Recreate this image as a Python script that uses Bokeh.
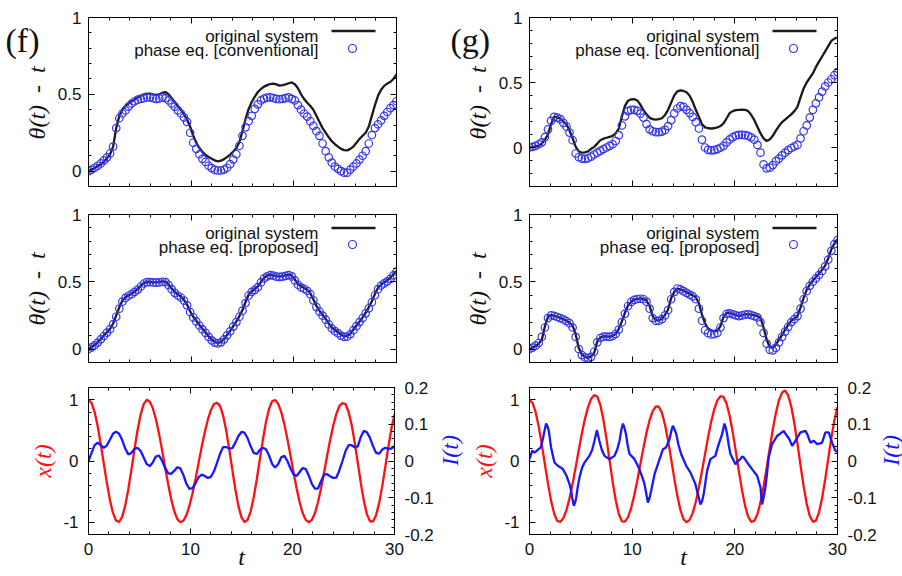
import math
import numpy as np
from bokeh.plotting import figure
from bokeh.layouts import column, row
from bokeh.models import (Range1d, LinearAxis, SingleIntervalTicker, NumeralTickFormatter,
                          Label, Arrow, BoxAnnotation)
from bokeh.core.properties import value
from bokeh.embed import file_html
from bokeh.resources import INLINE

# sampling times of the plotted series (0 .. 30, step 0.3)
t = np.round(np.arange(101) * 0.3, 1)

# ---- (f) theta(t) - t : original system vs conventional phase equation
f_orig_conv = [0, 0.01, 0.02, 0.035, 0.045, 0.06, 0.085, 0.11, 0.16, 0.28,
               0.36, 0.4, 0.425, 0.44, 0.455, 0.465, 0.48, 0.49, 0.5, 0.505,
               0.505, 0.5, 0.497, 0.5, 0.51, 0.515, 0.5, 0.475, 0.45, 0.425,
               0.4, 0.37, 0.335, 0.29, 0.23, 0.185, 0.15, 0.125, 0.105, 0.092,
               0.08, 0.07, 0.064, 0.068, 0.078, 0.092, 0.108, 0.128, 0.15, 0.19,
               0.26, 0.34, 0.405, 0.45, 0.485, 0.515, 0.535, 0.55, 0.56, 0.567,
               0.57, 0.565, 0.557, 0.56, 0.565, 0.572, 0.577, 0.565, 0.54, 0.5,
               0.47, 0.445, 0.425, 0.4, 0.36, 0.32, 0.28, 0.25, 0.22, 0.195,
               0.175, 0.16, 0.145, 0.137, 0.135, 0.145, 0.16, 0.185, 0.21, 0.23,
               0.25, 0.29, 0.36, 0.43, 0.49, 0.53, 0.555, 0.57, 0.58, 0.6,
               0.63]
f_conv = [0, 0.01, 0.022, 0.035, 0.05, 0.07, 0.09, 0.115, 0.16, 0.28,
          0.345, 0.375, 0.395, 0.42, 0.44, 0.455, 0.465, 0.47, 0.475, 0.48,
          0.48, 0.475, 0.47, 0.473, 0.48, 0.475, 0.46, 0.44, 0.42, 0.395,
          0.375, 0.35, 0.32, 0.25, 0.185, 0.145, 0.11, 0.08, 0.06, 0.035,
          0.02, 0.008, 0.004, 0.004, 0.01, 0.022, 0.045, 0.075, 0.11, 0.165,
          0.23, 0.285, 0.325, 0.36, 0.405, 0.435, 0.46, 0.472, 0.478, 0.48,
          0.476, 0.47, 0.468, 0.47, 0.475, 0.48, 0.47, 0.46, 0.43, 0.4,
          0.375, 0.355, 0.325, 0.295, 0.26, 0.23, 0.18, 0.13, 0.09, 0.055,
          0.03, 0.015, 0.0, -0.01, -0.01, 0.01, 0.03, 0.05, 0.075, 0.1,
          0.13, 0.18, 0.235, 0.28, 0.305, 0.33, 0.36, 0.385, 0.41, 0.43,
          0.455]

# ---- (f) theta(t) - t : original system vs proposed phase equation
f_orig_prop = [0, 0.015, 0.03, 0.05, 0.075, 0.1, 0.125, 0.15, 0.19, 0.25,
               0.31, 0.36, 0.385, 0.4, 0.41, 0.43, 0.445, 0.47, 0.49, 0.5,
               0.5, 0.497, 0.495, 0.497, 0.505, 0.5, 0.48, 0.45, 0.425, 0.405,
               0.39, 0.365, 0.33, 0.28, 0.24, 0.21, 0.18, 0.15, 0.125, 0.095,
               0.07, 0.052, 0.045, 0.052, 0.075, 0.105, 0.135, 0.17, 0.205, 0.245,
               0.29, 0.35, 0.405, 0.43, 0.445, 0.465, 0.5, 0.53, 0.545, 0.555,
               0.55, 0.542, 0.54, 0.542, 0.548, 0.555, 0.545, 0.517, 0.485, 0.465,
               0.455, 0.44, 0.415, 0.37, 0.32, 0.285, 0.255, 0.225, 0.19, 0.16,
               0.14, 0.125, 0.105, 0.095, 0.097, 0.115, 0.145, 0.175, 0.205, 0.235,
               0.27, 0.31, 0.355, 0.41, 0.455, 0.48, 0.495, 0.51, 0.53, 0.555,
               0.58]
f_prop = [0, 0.012, 0.028, 0.048, 0.072, 0.097, 0.122, 0.148, 0.185, 0.24,
          0.3, 0.352, 0.38, 0.396, 0.408, 0.425, 0.442, 0.465, 0.487, 0.497,
          0.498, 0.495, 0.493, 0.495, 0.5, 0.497, 0.475, 0.445, 0.418, 0.398,
          0.383, 0.36, 0.325, 0.275, 0.235, 0.205, 0.175, 0.146, 0.12, 0.09,
          0.065, 0.048, 0.042, 0.05, 0.072, 0.102, 0.132, 0.167, 0.2, 0.24,
          0.285, 0.342, 0.398, 0.425, 0.44, 0.46, 0.495, 0.525, 0.54, 0.55,
          0.546, 0.538, 0.536, 0.538, 0.544, 0.55, 0.54, 0.51, 0.478, 0.458,
          0.448, 0.433, 0.408, 0.362, 0.312, 0.278, 0.248, 0.218, 0.183, 0.153,
          0.133, 0.118, 0.1, 0.09, 0.093, 0.11, 0.14, 0.17, 0.2, 0.23,
          0.265, 0.303, 0.348, 0.4, 0.445, 0.472, 0.488, 0.503, 0.522, 0.548,
          0.575]

# ---- (g) theta(t) - t : original system vs conventional phase equation
g_orig_conv = [0, 0.003, 0.008, 0.015, 0.03, 0.06, 0.1, 0.18, 0.235, 0.235,
               0.222, 0.2, 0.178, 0.13, 0.07, 0.005, -0.03, -0.04, -0.037, -0.03,
               -0.01, 0.005, 0.03, 0.056, 0.068, 0.075, 0.082, 0.09, 0.11, 0.146,
               0.24, 0.32, 0.36, 0.37, 0.372, 0.362, 0.33, 0.287, 0.255, 0.228,
               0.218, 0.215, 0.218, 0.225, 0.25, 0.29, 0.345, 0.4, 0.432, 0.44,
               0.435, 0.425, 0.398, 0.35, 0.29, 0.235, 0.18, 0.155, 0.148, 0.146,
               0.148, 0.154, 0.165, 0.185, 0.225, 0.265, 0.28, 0.287, 0.29, 0.292,
               0.29, 0.28, 0.25, 0.21, 0.16, 0.108, 0.07, 0.05, 0.062, 0.09,
               0.13, 0.165, 0.195, 0.215, 0.235, 0.255, 0.28, 0.313, 0.385, 0.454,
               0.5, 0.535, 0.57, 0.62, 0.66, 0.7, 0.74, 0.78, 0.82, 0.838,
               0.846]
g_conv = [0.0, 0.005, 0.012, 0.025, 0.04, 0.08, 0.14, 0.205, 0.236, 0.23,
          0.218, 0.19, 0.16, 0.115, 0.056, -0.046, -0.075, -0.085, -0.087, -0.083,
          -0.07, -0.054, -0.04, -0.026, -0.012, 0.0, 0.012, 0.025, 0.05, 0.095,
          0.17, 0.24, 0.28, 0.29, 0.29, 0.282, 0.26, 0.23, 0.18, 0.14,
          0.125, 0.118, 0.118, 0.122, 0.135, 0.165, 0.21, 0.262, 0.3, 0.318,
          0.313, 0.29, 0.265, 0.235, 0.195, 0.146, 0.06, 0.0, -0.018, -0.022,
          -0.02, -0.012, -0.002, 0.012, 0.04, 0.062, 0.08, 0.092, 0.097, 0.097,
          0.095, 0.09, 0.078, 0.06, 0.02, -0.04, -0.13, -0.16, -0.155, -0.135,
          -0.105, -0.085, -0.06, -0.04, -0.02, -0.004, 0.008, 0.02, 0.07, 0.125,
          0.17, 0.23, 0.29, 0.34, 0.385, 0.43, 0.47, 0.5, 0.525, 0.556,
          0.58]

# ---- (g) theta(t) - t : original system vs proposed phase equation
g_orig_prop = [0, 0.01, 0.022, 0.04, 0.07, 0.17, 0.24, 0.252, 0.248, 0.24,
               0.232, 0.222, 0.21, 0.195, 0.175, 0.107, 0.007, -0.04, -0.058, -0.067,
               -0.055, -0.03, 0.057, 0.085, 0.095, 0.094, 0.09, 0.098, 0.113, 0.15,
               0.206, 0.27, 0.325, 0.352, 0.368, 0.373, 0.376, 0.372, 0.36, 0.32,
               0.244, 0.215, 0.212, 0.225, 0.255, 0.294, 0.38, 0.425, 0.448, 0.445,
               0.433, 0.422, 0.41, 0.398, 0.385, 0.34, 0.256, 0.19, 0.152, 0.138,
               0.132, 0.135, 0.17, 0.24, 0.27, 0.268, 0.261, 0.252, 0.244, 0.252,
               0.26, 0.26, 0.255, 0.251, 0.245, 0.231, 0.16, 0.07, 0.015, 0.01,
               0.032, 0.07, 0.105, 0.145, 0.18, 0.21, 0.228, 0.244, 0.31, 0.38,
               0.44, 0.48, 0.51, 0.535, 0.562, 0.59, 0.62, 0.675, 0.74, 0.785,
               0.816]
g_prop = [0, 0.01, 0.025, 0.045, 0.09, 0.16, 0.23, 0.25, 0.247, 0.238,
          0.23, 0.22, 0.208, 0.192, 0.16, 0.09, 0.0, -0.045, -0.062, -0.068,
          -0.058, -0.02, 0.05, 0.082, 0.092, 0.093, 0.09, 0.097, 0.112, 0.145,
          0.2, 0.262, 0.32, 0.35, 0.366, 0.372, 0.374, 0.37, 0.352, 0.3,
          0.23, 0.21, 0.21, 0.222, 0.25, 0.29, 0.37, 0.425, 0.45, 0.443,
          0.43, 0.418, 0.405, 0.392, 0.37, 0.3, 0.21, 0.14, 0.118, 0.108,
          0.11, 0.12, 0.16, 0.23, 0.262, 0.265, 0.258, 0.25, 0.245, 0.25,
          0.256, 0.258, 0.252, 0.245, 0.235, 0.2, 0.12, 0.04, -0.005, -0.01,
          0.01, 0.05, 0.09, 0.13, 0.165, 0.2, 0.222, 0.245, 0.3, 0.37,
          0.43, 0.47, 0.5, 0.525, 0.55, 0.58, 0.615, 0.665, 0.73, 0.78,
          0.81]

# ---- state x(t) and input I(t)
f_x = [1.0, 0.948, 0.799, 0.568, 0.276, -0.043, -0.357, -0.635, -0.848, -0.972,
       -0.996, -0.912, -0.728, -0.465, -0.149, 0.182, 0.493, 0.75, 0.925, 0.998,
       0.972, 0.866, 0.69, 0.459, 0.19, -0.095, -0.372, -0.618, -0.815, -0.945,
       -0.999, -0.976, -0.884, -0.73, -0.525, -0.284, -0.022, 0.235, 0.47, 0.675,
       0.83, 0.93, 0.95, 0.9, 0.74, 0.5, 0.19, -0.143, -0.466, -0.737,
       -0.921, -0.998, -0.962, -0.822, -0.592, -0.298, 0.028, 0.35, 0.636, 0.852,
       0.976, 0.996, 0.932, 0.798, 0.602, 0.361, 0.092, -0.184, -0.446, -0.674,
       -0.85, -0.962, -1.0, -0.962, -0.85, -0.674, -0.446, -0.184, 0.09, 0.35,
       0.58, 0.77, 0.9, 0.945, 0.93, 0.8, 0.59, 0.3, -0.029, -0.363,
       -0.655, -0.871, -0.985, -0.987, -0.881, -0.681, -0.41, -0.093, 0.233, 0.534,
       0.76]
f_I = [0.0, 0.022, 0.043, 0.05, 0.043, 0.036, 0.042, 0.058, 0.074, 0.08,
       0.074, 0.057, 0.034, 0.018, 0.022, 0.033, 0.036, 0.028, 0.01, -0.008,
       -0.014, -0.004, 0.012, 0.015, 0.002, -0.018, -0.033, -0.035, -0.027, -0.017,
       -0.02, -0.038, -0.062, -0.076, -0.074, -0.06, -0.044, -0.037, -0.041, -0.046,
       -0.043, -0.028, -0.005, 0.02, 0.038, 0.038, 0.034, 0.035, 0.05, 0.068,
       0.079, 0.077, 0.062, 0.04, 0.022, 0.019, 0.03, 0.036, 0.032, 0.015,
       -0.008, -0.018, -0.008, 0.01, 0.014, 0.0, -0.02, -0.036, -0.041, -0.03,
       -0.019, -0.022, -0.04, -0.062, -0.075, -0.075, -0.055, -0.037, -0.036, -0.042,
       -0.046, -0.045, -0.025, 0.0, 0.027, 0.043, 0.043, 0.037, 0.04, 0.066,
       0.082, 0.078, 0.063, 0.04, 0.022, 0.02, 0.031, 0.036, 0.033, 0.034,
       0.04]
g_x = [1.0, 0.948, 0.796, 0.561, 0.267, -0.054, -0.37, -0.647, -0.857, -0.977,
       -0.996, -0.933, -0.801, -0.608, -0.369, -0.1, 0.179, 0.449, 0.688, 0.881,
       1.013, 1.076, 1.053, 0.915, 0.674, 0.361, 0.01, -0.338, -0.641, -0.866,
       -0.984, -0.99, -0.915, -0.768, -0.564, -0.318, -0.05, 0.218, 0.464, 0.668,
       0.815, 0.89, 0.887, 0.786, 0.593, 0.332, 0.029, -0.284, -0.569, -0.8,
       -0.949, -1.0, -0.961, -0.847, -0.666, -0.434, -0.166, 0.117, 0.394, 0.644,
       0.847, 0.989, 1.059, 1.046, 0.936, 0.736, 0.464, 0.152, -0.173, -0.476,
       -0.733, -0.91, -0.994, -0.979, -0.869, -0.675, -0.415, -0.112, 0.208, 0.517,
       0.788, 0.992, 1.117, 1.15, 1.07, 0.886, 0.613, 0.281, -0.073, -0.41,
       -0.697, -0.898, -0.993, -0.974, -0.839, -0.605, -0.3, 0.04, 0.376, 0.668,
       0.88]
g_I_t = [0, 0.26, 0.5, 0.8, 1.1, 1.3, 1.46, 1.62, 1.75, 1.88, 2.1, 2.43, 2.76, 3.25, 3.57,
         3.9, 4.05, 4.16, 4.32, 4.45, 4.55, 4.7, 4.87, 5.1, 5.36, 5.84, 6.1, 6.33, 6.56,
         6.8, 7.05, 7.3, 7.8, 8.28, 8.55, 8.77, 8.95, 9.1, 9.25, 9.4, 9.55, 9.74, 10.23,
         10.7, 11.0, 11.2, 11.38, 11.53, 11.7, 11.85, 12.18, 12.5, 13.0, 13.3, 13.64, 13.8,
         13.96, 14.1, 14.3, 14.5, 14.77, 15.26, 15.67, 16.16, 16.49, 16.65, 16.8, 16.97,
         17.15, 17.3, 17.62, 18.1, 18.43, 18.76, 18.99, 19.12, 19.25, 19.4, 19.57, 20.06,
         20.3, 20.54, 20.7, 20.87, 21.2, 21.68, 22.17, 22.5, 22.65, 22.8, 22.98, 23.15,
         23.3, 23.63, 24.12, 24.45, 24.76, 25.09, 25.3, 25.58, 25.9, 26.39, 26.88, 27.1,
         27.36, 27.69, 28.01, 28.3, 28.5, 28.82, 29.15, 29.47, 29.8, 30.0]
g_I = [0.005, 0.028, 0.023, 0.03, 0.037, 0.06, 0.082, 0.102, 0.095, 0.082, 0.037, -0.004,
       -0.013, -0.022, -0.038, -0.063, -0.08, -0.1, -0.122, -0.112, -0.1, -0.07, -0.045,
       -0.02, -0.004, 0.014, 0.03, 0.055, 0.084, 0.055, 0.03, 0.014, 0.005, 0.014, 0.032,
       0.055, 0.085, 0.102, 0.09, 0.073, 0.045, 0.019, 0.005, -0.022, -0.045, -0.063,
       -0.09, -0.113, -0.1, -0.081, -0.036, -0.009, 0.032, 0.037, 0.059, 0.08, 0.096,
       0.088, 0.073, 0.045, 0.019, -0.013, -0.031, -0.063, -0.1, -0.118, -0.11, -0.09,
       -0.055, -0.027, 0.005, 0.014, 0.046, 0.073, 0.102, 0.09, 0.073, 0.045, 0.019,
       -0.009, 0.0, 0.005, 0.012, 0.01, -0.004, -0.022, -0.04, -0.072, -0.118, -0.1,
       -0.072, -0.03, 0.01, 0.046, 0.068, 0.075, 0.082, 0.068, 0.06, 0.041, 0.055, 0.078,
       0.082, 0.07, 0.05, 0.055, 0.046, 0.048, 0.05, 0.078, 0.078, 0.05, 0.028, 0.025]

SANS = "Liberation Sans"
SERIF = "Liberation Serif"
BLACK = "#1a1a1a"
CIRC = "#3535f0"
RED = "#ff1010"
BLUE = "#1818ff"
INK = "#111111"
THETA_LABEL = "θ(t)\u2002-\u2002t"
UP = math.pi / 2


def style_axis(ax, interval, labels=True, standoff=7):
    ax.ticker = SingleIntervalTicker(interval=interval, num_minor_ticks=5)
    ax.formatter = NumeralTickFormatter(format="0.[0]")
    ax.major_tick_in = 6
    ax.major_tick_out = 0
    ax.minor_tick_in = 3
    ax.minor_tick_out = 0
    ax.major_tick_line_color = "black"
    ax.minor_tick_line_color = "black"
    ax.axis_line_color = "black"
    ax.major_label_text_font = SANS
    if labels:
        ax.major_label_text_font_size = "17px"
        ax.major_label_text_color = INK
        ax.major_label_standoff = standoff
    else:
        # mirrored ticks only
        ax.major_label_text_font_size = "1px"
        ax.major_label_text_color = None
        ax.major_label_standoff = 0


def style_axis_label(ax, txt, color, standoff):
    ax.axis_label = txt
    ax.axis_label_text_font = SERIF
    ax.axis_label_text_font_style = "italic"
    ax.axis_label_text_font_size = "24px"
    ax.axis_label_text_color = color
    ax.axis_label_standoff = standoff


def panel(width, height, left, right, top, bottom, yr):
    p = figure(width=width, height=height, x_range=Range1d(0, 30), y_range=Range1d(*yr),
               x_axis_type=None, y_axis_type=None,
               output_backend="svg", toolbar_location=None,
               min_border_left=left, min_border_right=right,
               min_border_top=top, min_border_bottom=bottom)
    p.outline_line_color = "black"
    p.outline_line_width = 1
    p.outline_line_alpha = 1
    p.background_fill_color = "white"
    p.border_fill_color = "white"
    return p


def label_strip(width, height, items):
    """Narrow plain canvas carrying a panel letter or a rotated axis title."""
    p = figure(width=width, height=height, x_range=Range1d(0, width), y_range=Range1d(height, 0),
               x_axis_type=None, y_axis_type=None, output_backend="svg", toolbar_location=None,
               min_border_left=0, min_border_right=0, min_border_top=0, min_border_bottom=0)
    p.outline_line_color = None
    p.background_fill_color = "white"
    p.border_fill_color = "white"
    for x, y, s, size, style, color, align, baseline, angle in items:
        p.text(x=[x], y=[y], text=[s], text_font=value(SERIF), text_font_size=value(size),
               text_font_style=style, text_color=color, text_align=align,
               text_baseline=baseline, angle=angle)
    return p


def key_text(p, x, y, s):
    p.add_layout(Label(x=x, y=y, x_units="screen", y_units="screen", text=s,
                       text_font=SANS, text_font_size="17px", text_color=INK,
                       text_align="right", text_baseline="alphabetic"))


def theta_panel(width, height, left, right, top, bottom, yr, orig, phase, kind):
    p = panel(width, height, left, right, top, bottom, yr)
    fh = height - top - bottom
    xb = LinearAxis(); style_axis(xb, 10, labels=False); p.add_layout(xb, "below")
    xa = LinearAxis(); style_axis(xa, 10, labels=False); p.add_layout(xa, "above")
    yl = LinearAxis(); style_axis(yl, 0.5, standoff=7); p.add_layout(yl, "left")
    yr_ax = LinearAxis(); style_axis(yr_ax, 0.5, labels=False); p.add_layout(yr_ax, "right")

    p.line(t, orig, line_color=BLACK, line_width=2.3)
    p.scatter(t, phase, marker="circle", size=7.5, fill_color=None,
              line_color=CIRC, line_width=1.2)

    # key: text on the left, sample on the right
    key_text(p, 230, fh - 19, "original system")
    key_text(p, 230, fh - 33, "phase eq. [%s]" % kind)
    p.add_layout(Arrow(x_start=243, y_start=fh - 13.5, x_end=287, y_end=fh - 13.5,
                       start_units="screen", end_units="screen", end=None,
                       line_color=BLACK, line_width=2.3))
    r = 4
    cy = round(fh - 30.5)
    p.add_layout(BoxAnnotation(left=264 - r, right=264 + r, bottom=cy - r, top=cy + r,
                               left_units="screen", right_units="screen",
                               top_units="screen", bottom_units="screen",
                               border_radius=r, fill_alpha=0, line_color=CIRC,
                               line_width=1.2, line_alpha=1))
    return p


def signal_panel(width, height, left, right, top, bottom, x_vals, i_t, i_vals):
    p = panel(width, height, left, right, top, bottom, (-1.2, 1.2))
    p.extra_y_ranges = {"I": Range1d(-0.2, 0.2)}
    xb = LinearAxis(); style_axis(xb, 10, standoff=8); p.add_layout(xb, "below")
    style_axis_label(xb, "t", INK, -14)
    xa = LinearAxis(); style_axis(xa, 10, labels=False); p.add_layout(xa, "above")
    yl = LinearAxis(); style_axis(yl, 1, standoff=10); p.add_layout(yl, "left")
    style_axis_label(yl, "x(t)", RED, 4)
    yi = LinearAxis(y_range_name="I"); style_axis(yi, 0.1, standoff=10); p.add_layout(yi, "right")

    p.line(t, x_vals, line_color=RED, line_width=2.3)
    p.line(i_t, i_vals, line_color=BLUE, line_width=2.3, y_range_name="I")
    return p


F1 = label_strip(50, 200, [(5, 27, "(f)", "34px", "normal", INK, "left", "alphabetic", 0.0),
                           (36, 101, THETA_LABEL, "24px", "italic", INK, "center", "middle", UP)])
G1 = label_strip(55, 200, [(10, 27, "(g)", "34px", "normal", INK, "left", "alphabetic", 0.0),
                           (37, 101, THETA_LABEL, "24px", "italic", INK, "center", "middle", UP)])
F2 = label_strip(50, 175, [(36, 88, THETA_LABEL, "24px", "italic", INK, "center", "middle", UP)])
G2 = label_strip(55, 175, [(37, 88, THETA_LABEL, "24px", "italic", INK, "center", "middle", UP)])
IL = label_strip(29, 201, [(13, 86, "I(t)", "24px", "italic", BLUE, "center", "middle", UP)])
IR = label_strip(23, 201, [(11, 86, "I(t)", "24px", "italic", BLUE, "center", "middle", UP)])

f1 = theta_panel(390, 200, 38, 44, 17, 14, (-0.1, 1.0), f_orig_conv, f_conv, "conventional")
g1 = theta_panel(407, 200, 34, 65, 17, 14, (-0.3, 1.0), g_orig_conv, g_conv, "conventional")
f2 = theta_panel(390, 175, 38, 44, 14, 13, (-0.1, 1.0), f_orig_prop, f_prop, "proposed")
g2 = theta_panel(407, 175, 34, 65, 14, 13, (-0.1, 1.0), g_orig_prop, g_prop, "proposed")
f3 = signal_panel(436, 201, 88, 40, 12, 42, f_x, t, f_I)
g3 = signal_panel(414, 201, 64, 42, 12, 42, g_x, g_I_t, g_I)

layout = column(row(F1, f1, G1, g1), row(F2, f2, G2, g2), row(f3, IL, g3, IR))

open("out.html", "w").write(file_html(layout, INLINE))
